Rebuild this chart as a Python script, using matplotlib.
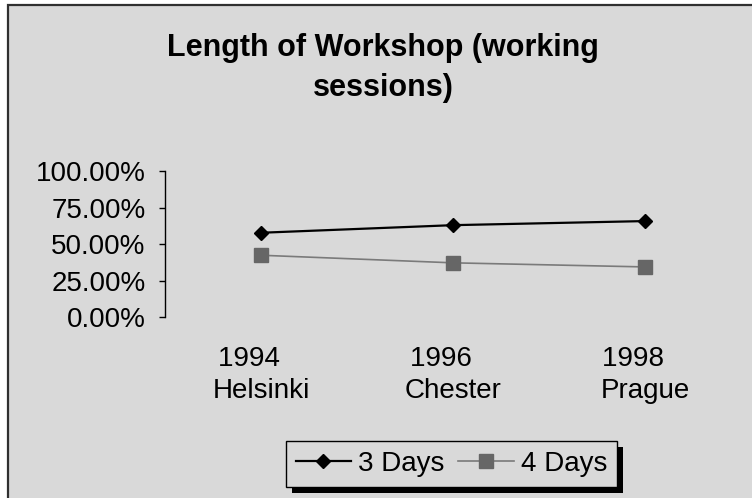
import matplotlib
matplotlib.use('Agg')
import matplotlib.pyplot as plt
from matplotlib.patches import Rectangle
from matplotlib.ticker import PercentFormatter
from matplotlib.transforms import IdentityTransform

# data
categories = ["1994   \nHelsinki", "1996   \nChester", "1998   \nPrague"]
three_days = [0.577, 0.629, 0.657]
four_days = [0.423, 0.371, 0.343]
series_names = ["3 Days", "4 Days"]
title = "Length of Workshop (working\nsessions)"

BG = '#d9d9d9'
plt.rcParams['font.family'] = ['Liberation Sans', 'DejaVu Sans']

W, H = 752, 498
fig = plt.figure(figsize=(W / 100, H / 100), dpi=100, facecolor='white')

# chart area: gray with a dark border, cut off at right/bottom like the reference
fig.patches.append(Rectangle((8, -20), W + 40, H - 5 + 20, transform=IdentityTransform(),
                             facecolor=BG, edgecolor='#303030', linewidth=1.6, zorder=-10))

ax = fig.add_axes([165 / W, 1 - 317 / H, (741 - 165) / W, (317 - 171) / H])
ax.set_facecolor('none')

x = range(len(categories))
ax.plot(x, three_days, color='black', lw=1.6, marker='D', markersize=7,
        markerfacecolor='black', markeredgecolor='black', label=series_names[0])
ax.plot(x, four_days, color='#7a7a7a', lw=1.2, marker='s', markersize=9.5,
        markerfacecolor='#666666', markeredgecolor='#666666', label=series_names[1])

ax.set_xlim(-0.5, 2.5)
ax.set_ylim(0, 1)
ax.set_yticks([0, 0.25, 0.5, 0.75, 1.0])
ax.yaxis.set_major_formatter(PercentFormatter(xmax=1, decimals=2))
ax.set_xticks(list(x))
ax.set_xticklabels(categories, fontsize=20, linespacing=1.3)
ax.tick_params(axis='x', length=0, pad=21)
ax.tick_params(axis='y', labelsize=20, length=4, width=1, pad=10, direction='out')

for side in ['top', 'right', 'bottom']:
    ax.spines[side].set_visible(False)
ax.spines['left'].set_linewidth(1)

fig.text(383 / W, 1 - 33 / H, title, ha='center', va='top', fontsize=22,
         fontweight='bold', linespacing=1.42)

leg = fig.legend(loc='center', bbox_to_anchor=(451.5 / W, 1 - 464 / H), ncol=2,
                 fontsize=20, frameon=True, fancybox=False, numpoints=1,
                 handlelength=2.0, handletextpad=0.25, columnspacing=0.5,
                 borderpad=0.35, borderaxespad=0)
leg.get_frame().set_facecolor(BG)
leg.get_frame().set_edgecolor('black')
leg.get_frame().set_linewidth(1)
leg.get_frame().set_alpha(1)

# hard black drop shadow under the legend box
fig.canvas.draw()
bb = leg.get_window_extent()
fig.patches.append(Rectangle((bb.x0 + 6, bb.y0 - 6), bb.width, bb.height,
                             transform=IdentityTransform(), facecolor='black',
                             edgecolor='none', zorder=4))

fig.savefig('out.png', dpi=100, facecolor=fig.get_facecolor())
plt.close(fig)
